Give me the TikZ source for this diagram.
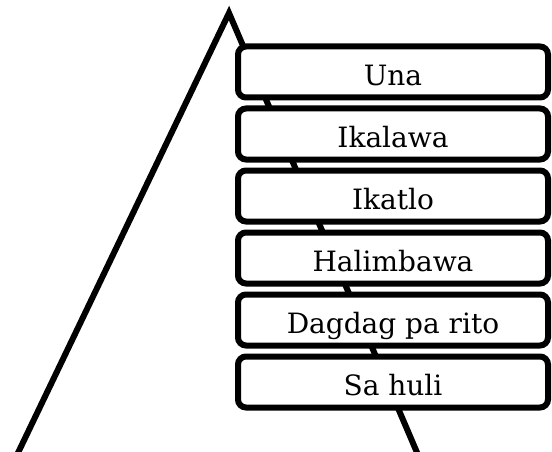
\documentclass[tikz,border=0pt]{standalone}
\usepackage{fontspec}
\setmainfont{DejaVu Serif}
\begin{document}
\begin{tikzpicture}[x=1pt,y=-1pt,
  stepbox/.style={draw=black, line width=6pt, fill=white, rounded corners=8pt,
    minimum width=310pt, minimum height=51pt, inner sep=0pt,
    text height=27pt, text depth=0pt,
    font=\fontsize{28}{32}\selectfont},
  tri/.style={draw=black, line width=6pt, line join=miter}]
\useasboundingbox (0,0) rectangle (552,452);
\coordinate (apex) at (229,13);
\coordinate (bl) at (16.5,456);
\coordinate (br) at (418.5,456);
\draw[tri] (bl) -- (apex) -- (br) -- cycle;
\foreach \t [count=\i] in {Una,Ikalawa,Ikatlo,Halimbawa,Dagdag pa rito,Sa huli}{
  \node[stepbox] (b\i) at (393, {72+62*(\i-1)}) {\t};
}
\end{tikzpicture}
\end{document}
